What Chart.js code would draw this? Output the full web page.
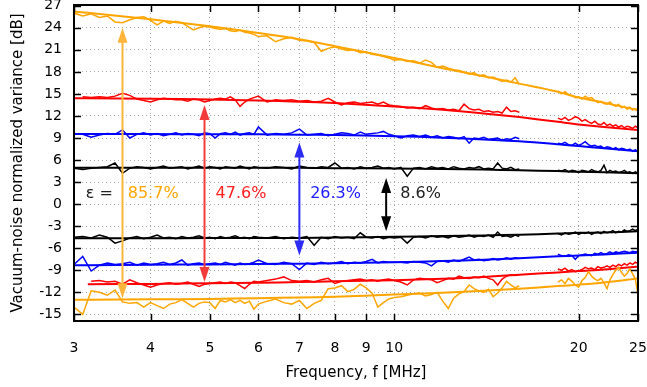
<!DOCTYPE html>
<html><head><meta charset="utf-8">
<script src="https://cdn.jsdelivr.net/npm/chart.js@4.4.1/dist/chart.umd.min.js"></script>
<style>html,body{margin:0;padding:0;background:#fff}canvas{display:block}</style>
</head><body>
<canvas id="c" width="647" height="387"></canvas>
<script>
// ---------- data ----------
const freq = [3.0,3.1,3.2,3.3,3.4,3.5,3.6,3.7,3.8,3.9,4.0,4.1,4.2,4.3,4.4,4.5,4.6,4.7,4.8,4.9,5.0,5.1,5.2,5.3,5.4,5.5,5.6,5.7,5.8,5.9,6.0,
 6.2,6.4,6.6,6.8,7.0,7.2,7.4,7.6,7.8,8.0,8.2,8.4,8.6,8.8,9.0,9.2,9.4,9.6,9.8,10.0,
 10.25,10.5,10.75,11,11.25,11.5,11.75,12,12.25,12.5,12.75,13,13.25,13.5,13.75,14,14.25,14.5,14.75,15,15.25,15.5,15.75,16,
 17,
 18.5,18.75,19,19.25,19.5,19.75,20,20.25,20.5,20.75,21,21.25,21.5,21.75,22,22.25,22.5,22.75,23,23.25,23.5,23.75,24,24.25,24.5,24.75,25];

const orangeUpper = [26.0,25.6,25.9,25.4,25.6,24.8,24.7,25.1,25.4,25.5,25.0,24.4,24.9,24.6,24.9,24.7,24.2,23.7,24.0,24.2,24.1,23.9,23.8,23.9,23.6,23.5,23.7,23.4,23.3,23.1,22.8,
 22.9,22.1,22.5,22.7,22.3,22.2,22.0,20.8,21.2,21.4,21.1,20.9,21.0,20.6,20.7,20.4,20.3,20.1,19.9,19.6,
 19.7,19.4,19.5,19.2,19.6,19.3,18.6,18.8,18.5,18.3,18.2,18.0,17.7,17.9,17.4,17.6,17.2,17.3,17.0,16.7,16.9,16.6,17.2,16.3,
 null,
 15.4,15.0,15.3,14.9,14.8,14.5,14.6,14.3,14.7,14.4,14.5,14.1,13.8,14.0,13.7,13.6,13.9,13.5,13.3,13.6,13.1,13.3,12.9,13.2,12.8,13.0,12.6];

const redUpper = [null,14.6,14.5,14.6,14.5,14.7,15.1,14.8,14.3,14.1,13.9,14.2,14.4,14.3,14.2,14.2,14.0,14.3,14.2,13.9,14.1,14.3,14.4,14.3,14.6,14.2,13.3,13.9,14.3,14.5,14.7,
 13.9,14.2,14.1,14.2,14.0,14.1,13.9,14.0,14.4,13.9,13.5,13.8,13.9,13.7,13.8,13.9,13.6,13.9,13.5,13.4,
 13.3,13.1,13.2,13.0,13.4,13.1,12.9,13.0,12.8,12.9,12.7,13.6,13.0,12.8,12.9,12.6,12.7,12.5,12.6,12.4,13.2,12.6,12.7,12.5,
 null,
 11.7,11.5,11.8,11.4,11.6,11.9,11.7,11.3,11.5,11.2,11.0,11.3,10.9,10.8,11.1,10.7,10.9,10.6,10.8,10.5,10.7,10.4,10.6,10.5,10.3,10.6,10.4];

const blueUpper = [9.6,9.5,9.1,9.4,9.6,9.5,10.1,9.0,9.5,9.7,9.4,9.6,9.3,9.5,9.7,9.4,9.6,9.5,9.3,9.7,9.6,9.0,9.6,9.7,9.5,9.8,9.4,9.6,9.7,9.5,10.5,
 9.4,9.6,9.5,9.7,10.2,9.4,9.5,9.6,9.3,9.5,9.7,9.6,9.4,9.8,9.5,9.6,9.7,9.9,9.5,9.3,
 9.0,9.3,9.4,9.2,9.4,9.1,9.3,9.0,9.2,9.1,8.9,9.2,8.3,9.0,8.9,9.1,8.8,8.9,9.0,8.7,8.9,8.8,9.1,8.9,
 null,
 8.3,8.2,8.4,8.1,8.0,8.3,8.0,8.2,8.5,8.1,7.9,8.0,7.8,7.9,7.6,7.8,7.7,7.5,7.7,7.4,7.6,7.5,7.3,7.5,7.2,7.4,7.2];

const blackUpper = [4.9,4.7,4.9,5.0,5.1,5.6,4.2,4.9,5.1,5.0,4.8,5.0,5.2,4.9,5.0,5.1,4.8,5.0,5.2,4.9,5.1,5.0,4.8,5.1,5.0,4.9,5.2,5.0,4.8,5.1,5.0,
 4.9,5.1,5.0,4.8,5.2,5.0,4.9,5.1,5.0,5.6,4.9,5.0,4.8,5.1,4.9,5.0,5.2,4.9,5.0,4.8,
 5.0,3.8,4.9,5.0,4.8,5.1,4.9,5.0,4.8,5.1,4.9,4.8,5.0,4.9,5.1,4.8,4.9,4.8,5.6,4.9,4.8,5.0,4.7,4.8,
 null,
 4.6,4.5,4.7,4.4,4.6,4.5,4.3,4.6,4.5,4.4,4.7,4.5,4.4,4.6,5.3,4.3,4.6,4.4,4.5,4.3,4.4,4.6,4.3,4.4,4.2,4.4,4.2];

const blackLower = [-4.5,-4.4,-4.6,-4.2,-4.5,-5.3,-5.0,-4.6,-4.4,-4.7,-4.5,-4.2,-4.6,-4.5,-4.7,-4.4,-4.6,-4.5,-4.3,-4.6,-4.5,-4.7,-4.4,-4.6,-4.5,-4.3,-4.6,-4.5,-4.7,-4.4,-4.5,
 -4.6,-4.4,-4.7,-4.5,-4.6,-4.4,-5.6,-4.5,-4.7,-4.4,-4.6,-4.5,-4.7,-3.9,-4.5,-4.6,-4.4,-4.7,-4.5,-4.6,
 -4.5,-5.3,-4.5,-4.4,-4.6,-4.3,-4.5,-4.4,-4.6,-4.3,-4.5,-4.4,-4.2,-4.5,-4.3,-4.4,-4.2,-4.5,-3.8,-4.4,-4.3,-4.5,-4.2,-4.4,
 null,
 -4.0,-4.2,-3.9,-4.1,-4.0,-3.8,-4.1,-3.9,-4.0,-3.8,-4.1,-3.9,-3.8,-4.0,-3.7,-3.9,-3.8,-3.6,-3.9,-3.7,-3.8,-3.5,-3.7,-3.6,-3.4,-3.6,-3.4];

const blueLower = [-8.2,-7.1,-9.1,-8.3,-8.0,-8.2,-8.1,-7.9,-8.3,-8.0,-8.2,-8.1,-7.9,-8.2,-8.0,-7.6,-8.3,-8.1,-8.0,-8.2,-8.1,-8.0,-8.2,-7.9,-8.1,-8.3,-8.0,-8.2,-8.1,-7.9,-7.6,
 -8.1,-8.2,-7.9,-8.1,-8.9,-8.0,-8.2,-7.9,-8.1,-8.0,-7.8,-8.1,-7.9,-8.0,-7.8,-7.5,-8.0,-7.8,-7.9,-7.9,
 -7.9,-8.0,-7.8,-7.9,-8.0,-8.4,-7.8,-7.7,-7.9,-7.6,-7.8,-7.5,-7.2,-7.6,-7.5,-7.7,-7.6,-7.4,-7.6,-7.5,-7.3,-7.5,-7.3,-7.4,
 null,
 -6.8,-7.0,-7.1,-6.9,-7.0,-7.5,-7.0,-6.9,-6.8,-6.9,-7.0,-6.7,-6.8,-6.6,-6.8,-6.7,-6.5,-6.7,-6.5,-6.6,-6.5,-6.4,-6.5,-6.6,-6.4,-6.5,-6.4];

const redLower = [null,null,-10.5,-10.4,-10.6,-10.5,-10.9,-10.3,-10.7,-11.0,-11.3,-11.0,-10.8,-10.7,-10.9,-10.8,-10.6,-10.9,-11.2,-10.9,-10.8,-10.7,-10.6,-10.8,-10.6,-10.7,-11.1,-11.5,-10.9,-10.5,-10.6,
 -10.4,-10.2,-9.9,-10.4,-10.5,-10.4,-10.6,-10.3,-10.1,-10.8,-10.5,-10.4,-10.3,-10.2,-10.4,-10.3,-10.5,-10.3,-10.2,-10.4,
 -10.6,-11.0,-10.3,-10.1,-10.2,-10.3,-10.7,-10.4,-10.1,-10.2,-9.8,-10.0,-10.1,-9.9,-10.0,-9.8,-10.1,-10.3,-11.0,-10.2,-9.8,-9.6,-9.7,-9.6,
 null,
 -8.8,-9.0,-8.7,-9.1,-8.9,-9.2,-9.1,-8.9,-8.6,-8.8,-8.7,-8.9,-8.5,-8.7,-8.6,-8.4,-8.6,-8.3,-8.5,-8.2,-8.4,-8.1,-8.3,-8.0,-8.2,-7.9,-8.1];

const orangeLower = [-14.0,-15.0,-11.8,-12.0,-12.4,-11.7,-13.3,-13.5,-13.4,-14.0,-13.4,-13.8,-14.2,-13.6,-13.4,-13.0,-13.5,-14.0,-13.5,-13.3,-13.4,-14.2,-13.1,-13.3,-13.0,-13.4,-13.1,-13.5,-13.2,-14.3,-13.6,
 -13.2,-12.9,-13.4,-13.6,-13.1,-14.2,-13.5,-13.1,-11.5,-11.4,-11.1,-11.9,-11.6,-10.9,-11.4,-12.1,-14.0,-13.4,-12.9,-12.7,
 -12.6,-12.4,-12.2,-12.1,-12.5,-12.3,-12.0,-13.2,-14.2,-12.8,-12.2,-11.9,-11.0,-11.5,-11.8,-12.0,-11.6,-12.6,-12.1,-11.4,-10.5,-11.0,-11.4,-11.1,
 null,
 -10.6,-10.3,-10.8,-10.1,-10.5,-11.0,-11.3,-10.4,-10.0,-9.2,-9.8,-10.2,-10.4,-10.1,-10.7,-11.5,-10.3,-9.6,-9.0,-8.6,-9.3,-9.8,-9.4,-8.8,-9.5,-10.2,-12.3];

// fitted curves
const fitFreq = [3, 3.16, 4, 5, 6, 7, 8, 10, 12, 14, 16, 18.5, 20, 22, 25];
const orangeUpperFit = [26.2, 26.05, 25.15, 24.2, 23.3, 22.45, 21.5, 19.9, 18.5, 17.4, 16.4, 15.3, 14.5, 13.8, 12.8];
const redUpperFit    = [14.4, 14.4, 14.35, 14.25, 14.1, 13.95, 13.75, 13.3, 12.85, 12.35, 11.85, 11.2, 10.85, 10.5, 10.1];
const blueUpperFit   = [9.55, 9.55, 9.55, 9.5, 9.5, 9.45, 9.4, 9.25, 9.05, 8.8, 8.55, 8.15, 7.9, 7.6, 7.2];
const blackUpperFit  = [4.95, 4.95, 4.95, 4.95, 4.95, 4.95, 4.9, 4.85, 4.8, 4.7, 4.6, 4.5, 4.4, 4.35, 4.2];
const blackLowerFit  = [-4.65, -4.65, -4.65, -4.6, -4.6, -4.6, -4.55, -4.45, -4.35, -4.25, -4.15, -4.0, -3.9, -3.85, -3.7];
const blueLowerFit   = [-8.3, -8.3, -8.25, -8.2, -8.15, -8.1, -8.05, -7.9, -7.75, -7.55, -7.35, -7.1, -7.0, -6.85, -6.6];
const redLowerFit    = [null, -10.9, -10.85, -10.75, -10.7, -10.6, -10.5, -10.35, -10.15, -9.9, -9.6, -9.3, -9.1, -8.9, -8.5];
const orangeLowerFit = [-13.0, -13.0, -12.95, -12.9, -12.8, -12.7, -12.6, -12.3, -12.05, -11.8, -11.5, -11.15, -10.95, -10.65, -10.1];

// arrows (frequency, top, bottom) and labels
const arrowFreq   = [3.6, 4.9, 7.0, 9.7];
const arrowTop    = [24.0, 13.5, 8.4, 3.55];
const arrowBottom = [-12.8, -10.6, -7.0, -3.7];
const effLabels   = ['ε =', '85.7%', '47.6%', '26.3%', '8.6%'];

// axes
const xTicks = [3, 4, 5, 6, 7, 8, 9, 10, 20, 25];
const yTicks = [-15, -12, -9, -6, -3, 0, 3, 6, 9, 12, 15, 18, 21, 24, 27];

// ---------- styling ----------
const FONT = '"DejaVu Sans", Verdana, sans-serif';
const C_OR = '#ffa500', C_RED = '#ff0000', C_BLUE = '#0000ff', C_BLK = '#000000';
const arrowColors = ['#ffb43c', '#f23c3c', '#2c2cf5', '#000000'];
const labelColors = ['#222222', '#ffa500', '#ff2020', '#2020ff', '#222222'];
const labelAnchors = [[3.30, 1.35], [4.04, 1.35], [5.62, 1.35], [8.02, 1.35], [11.04, 1.35]];

function pts(xs, ys) { return xs.map((f, i) => ({x: f, y: ys[i]})); }
function noisy(ys, color) {
  return {data: pts(freq, ys), borderColor: color, borderWidth: 1.5, pointRadius: 0, spanGaps: false, tension: 0};
}
function fit(ys, color) {
  return {data: pts(fitFreq, ys), borderColor: color, borderWidth: 2, pointRadius: 0, spanGaps: false, tension: 0.3};
}

const datasets = [
  noisy(orangeUpper, C_OR), noisy(redUpper, C_RED), noisy(blueUpper, C_BLUE), noisy(blackUpper, C_BLK),
  noisy(blackLower, C_BLK), noisy(blueLower, C_BLUE), noisy(redLower, C_RED), noisy(orangeLower, C_OR),
  fit(orangeUpperFit, C_OR), fit(redUpperFit, C_RED), fit(blueUpperFit, C_BLUE), fit(blackUpperFit, C_BLK),
  fit(blackLowerFit, C_BLK), fit(blueLowerFit, C_BLUE), fit(redLowerFit, C_RED), fit(orangeLowerFit, C_OR)
];

function drawArrow(ctx, x, yTop, yBot, color) {
  const hl = 15, hw = 5;
  ctx.save();
  ctx.strokeStyle = color; ctx.fillStyle = color; ctx.lineWidth = 2;
  ctx.beginPath(); ctx.moveTo(x, yTop + hl - 1); ctx.lineTo(x, yBot - hl + 1); ctx.stroke();
  ctx.beginPath(); ctx.moveTo(x, yTop); ctx.lineTo(x - hw, yTop + hl); ctx.lineTo(x + hw, yTop + hl); ctx.closePath(); ctx.fill();
  ctx.beginPath(); ctx.moveTo(x, yBot); ctx.lineTo(x - hw, yBot - hl); ctx.lineTo(x + hw, yBot - hl); ctx.closePath(); ctx.fill();
  ctx.restore();
}

const overlay = {
  id: 'overlay',
  afterDatasetsDraw(chart) {
    const {ctx, scales: {x, y}} = chart;
    arrowFreq.forEach((f, i) => {
      drawArrow(ctx, x.getPixelForValue(f), y.getPixelForValue(arrowTop[i]), y.getPixelForValue(arrowBottom[i]), arrowColors[i]);
    });
    ctx.save();
    ctx.font = '16px ' + FONT;
    ctx.textAlign = 'center'; ctx.textBaseline = 'middle';
    effLabels.forEach((t, i) => {
      ctx.fillStyle = labelColors[i];
      ctx.fillText(t, x.getPixelForValue(labelAnchors[i][0]), y.getPixelForValue(labelAnchors[i][1]));
    });
    ctx.restore();
  },
  afterDraw(chart) {
    const {ctx, chartArea: a, scales: {x, y}} = chart;
    ctx.save();
    ctx.strokeStyle = '#000'; ctx.lineWidth = 1.5;
    ctx.beginPath();
    yTicks.forEach(v => {
      const py = Math.round(y.getPixelForValue(v)) + 0.5;
      ctx.moveTo(a.left, py); ctx.lineTo(a.left + 7, py);
      ctx.moveTo(a.right - 7, py); ctx.lineTo(a.right, py);
    });
    xTicks.forEach(v => {
      const px = Math.round(x.getPixelForValue(v)) + 0.5;
      ctx.moveTo(px, a.bottom); ctx.lineTo(px, a.bottom - 7);
      ctx.moveTo(px, a.top); ctx.lineTo(px, a.top + 7);
    });
    ctx.stroke();
    ctx.lineWidth = 2;
    ctx.strokeRect(a.left, a.top, a.right - a.left, a.bottom - a.top);
    ctx.restore();
  }
};

new Chart(document.getElementById('c'), {
  type: 'line',
  data: {datasets},
  options: {
    responsive: false, animation: false, devicePixelRatio: 1,
    layout: {padding: {top: 5, right: 9, bottom: 0, left: 0}},
    plugins: {legend: {display: false}, tooltip: {enabled: false}},
    scales: {
      x: {
        type: 'logarithmic', min: 3, max: 25,
        afterBuildTicks: s => { s.ticks = xTicks.map(v => ({value: v})); },
        afterFit: s => { s.height = 66; s.paddingLeft = 0; s.paddingRight = 0; },
        ticks: {autoSkip: false, maxRotation: 0, minRotation: 0, padding: 19, color: '#000',
                font: {family: FONT, size: 14}, callback: v => String(v)},
        grid: {color: '#a8a8a8', lineWidth: 1, drawTicks: false},
        border: {display: false, dash: [1, 3]},
        title: {display: true, text: 'Frequency, f [MHz]', color: '#000',
                font: {family: FONT, size: 15}, padding: {top: 0, bottom: 5}}
      },
      y: {
        type: 'linear', min: -15.9, max: 27.1,
        afterBuildTicks: s => { s.ticks = yTicks.map(v => ({value: v})); },
        afterFit: s => { s.width = 74; s.paddingTop = 0; s.paddingBottom = 0; },
        ticks: {padding: 12, color: '#000', font: {family: FONT, size: 14}, callback: v => String(v)},
        grid: {color: '#a8a8a8', lineWidth: 1, drawTicks: false},
        border: {display: false, dash: [1, 3]},
        title: {display: true, text: 'Vacuum-noise normalized variance [dB]', color: '#000',
                font: {family: FONT, size: 15}, padding: {top: 9, bottom: 0}}
      }
    }
  },
  plugins: [overlay]
});
</script>
</body></html>
